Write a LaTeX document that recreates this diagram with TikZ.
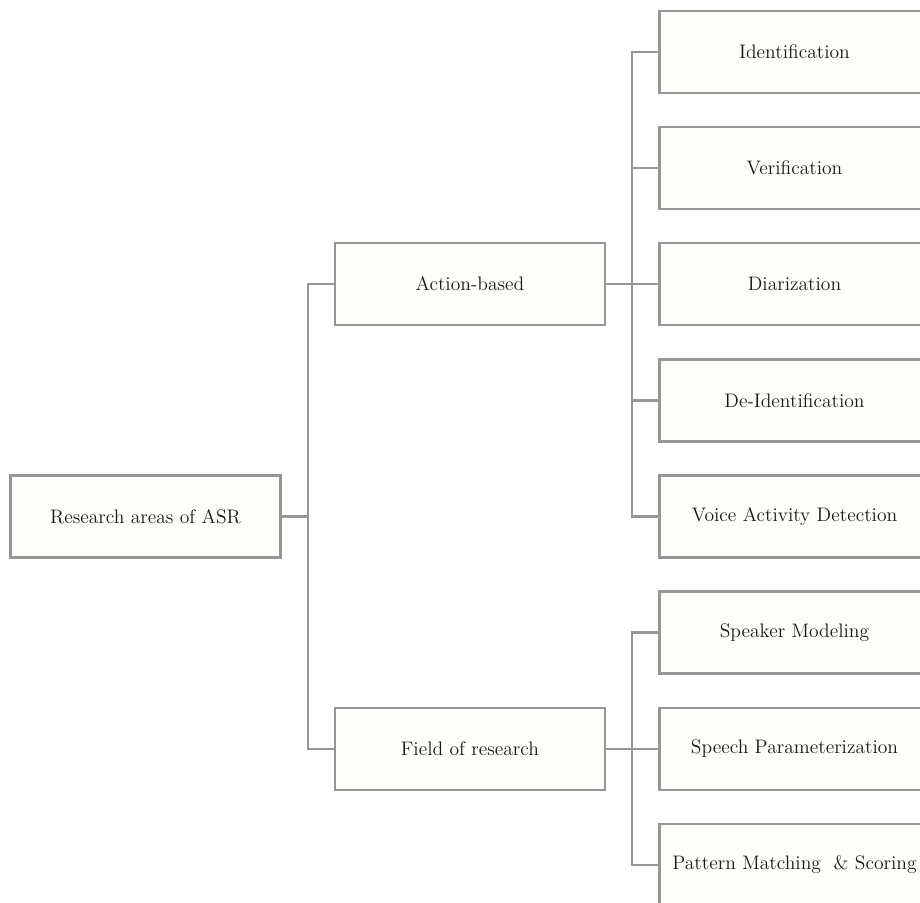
\documentclass[tikz,border=0pt]{standalone}
\usepackage{tikz}
\usepackage{xcolor}

\definecolor{linegray}{RGB}{150,150,150}
\definecolor{boxfill}{RGB}{253,253,250}
\definecolor{textgray}{RGB}{25,25,25}

\tikzset{
	areabox/.style={draw=linegray,fill=boxfill,line width=1.6pt,
		minimum width=6.75cm,minimum height=2.05cm,inner sep=0pt,
		text=textgray,font=\fontsize{13.9}{16}\selectfont},
	link/.style={draw=linegray,line width=1.6pt}
}

\begin{document}
\begin{tikzpicture}[x=0.025cm,y=-0.025cm]
				% frame of the picture, right column runs off the edge
				\path[use as bounding box,clip] (0,0) rectangle (920,902);
				% root and the two groups
				\node[areabox] (root) at (145.5,516.5) {Research areas of ASR};
				\node[areabox] (act) at (470,284) {Action-based};
				\node[areabox] (field) at (470,749) {Field of research};
				% right column
				\node[areabox] (iden) at (794.5,52) {Identification};
				\node[areabox] (veri) at (794.5,168) {Verification};
				\node[areabox] (diar) at (794.5,284) {Diarization};
				\node[areabox] (deid) at (794.5,400.5) {De-Identification};
				\node[areabox] (vad) at (794.5,516.5) {Voice Activity Detection};
				\node[areabox] (spkm) at (794.5,632.5) {Speaker Modeling};
				\node[areabox] (spar) at (794.5,749) {Speech Parameterization};
				\node[areabox] (patm) at (794.5,865) {Pattern Matching~ \& Scoring};
				% forks
				\coordinate (rootfork) at (308,516.5);
				\coordinate (actfork) at (632,284);
				\coordinate (fieldfork) at (632,749);
				\draw[link] (root.east) -- (rootfork);
				\draw[link] (rootfork) |- (act.west);
				\draw[link] (rootfork) |- (field.west);
				\draw[link] (act.east) -- (actfork);
				\foreach \n in {iden,veri,diar,deid,vad}
					\draw[link] (actfork) |- (\n.west);
				\draw[link] (field.east) -- (fieldfork);
				\foreach \n in {spkm,spar,patm}
					\draw[link] (fieldfork) |- (\n.west);
			\end{tikzpicture}
\end{document}
